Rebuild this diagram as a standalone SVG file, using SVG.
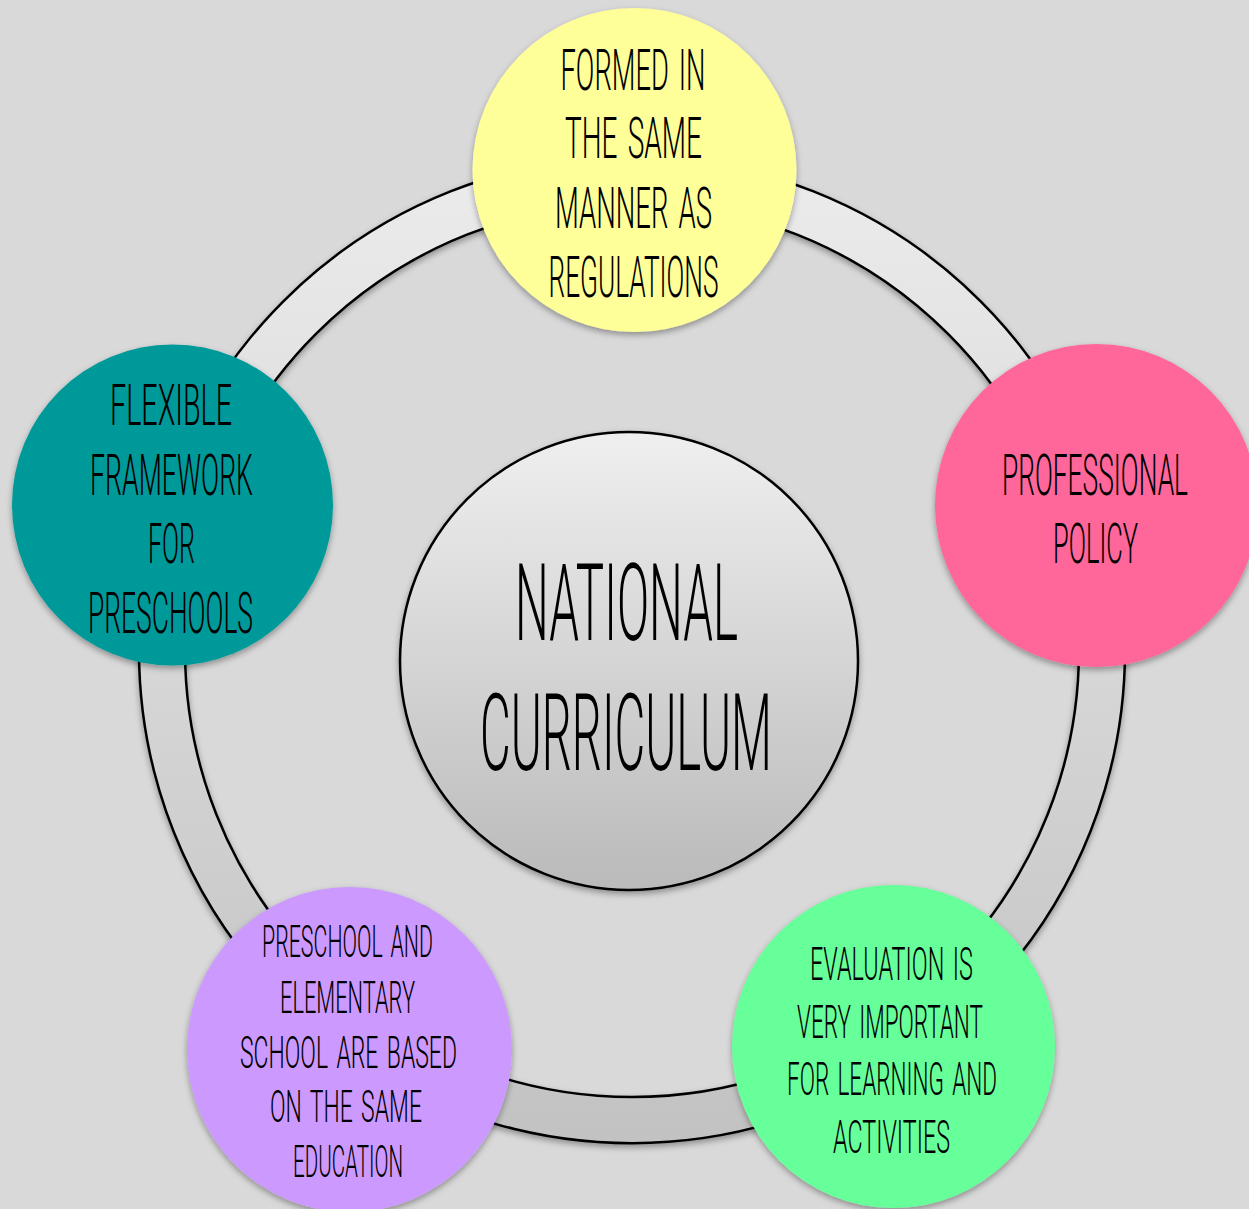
<svg xmlns="http://www.w3.org/2000/svg" width="1249" height="1209" viewBox="0 0 1249 1209">
  <defs>
    <linearGradient id="ringGrad" x1="0" y1="0" x2="0" y2="1">
      <stop offset="0" stop-color="#ececec"/>
      <stop offset="1" stop-color="#c2c2c2"/>
    </linearGradient>
    <linearGradient id="centerGrad" x1="0" y1="0" x2="0" y2="1">
      <stop offset="0" stop-color="#efefef"/>
      <stop offset="1" stop-color="#bababa"/>
    </linearGradient>
    <filter id="shadow" x="-20%" y="-20%" width="140%" height="140%">
      <feDropShadow dx="0" dy="3" stdDeviation="3" flood-color="#000" flood-opacity="0.35"/>
    </filter>
  </defs>
  <style>
    .lbl { font-family: Roboto, "Liberation Sans Narrow", "DejaVu Sans Condensed", sans-serif; font-weight: 300; fill: #000; text-anchor: middle; word-spacing: 0.12em; }
    .sat { filter: url(#shadow); }
    .edge { stroke: #000; stroke-width: 2.5; }
  </style>
  <rect width="1249" height="1209" fill="#d9d9d9"/>

  <g id="connectors">
    <path class="edge" filter="url(#shadow)" fill="url(#ringGrad)" fill-rule="evenodd"
      d="M139,650 A493,493 0 1,0 1125,650 A493,493 0 1,0 139,650 Z M185,650 A447,447 0 1,1 1079,650 A447,447 0 1,1 185,650 Z"/>
  </g>

  <g id="center">
    <circle class="edge" cx="629" cy="661" r="229" fill="url(#centerGrad)" filter="url(#shadow)"/>
    <text class="lbl" x="626.5" y="640" font-size="108" textLength="223" lengthAdjust="spacingAndGlyphs">NATIONAL</text>
    <text class="lbl" x="626" y="770" font-size="108" textLength="292" lengthAdjust="spacingAndGlyphs">CURRICULUM</text>
  </g>

  <g id="node-top">
    <circle class="sat" cx="634.5" cy="170" r="162" fill="#ffff99"/>
    <text class="lbl" x="633" y="90" font-size="57" textLength="145" lengthAdjust="spacingAndGlyphs">FORMED IN</text>
    <text class="lbl" x="633.5" y="158" font-size="57" textLength="137" lengthAdjust="spacingAndGlyphs">THE SAME</text>
    <text class="lbl" x="633.5" y="228" font-size="57" textLength="157" lengthAdjust="spacingAndGlyphs">MANNER AS</text>
    <text class="lbl" x="633.5" y="297" font-size="57" textLength="170" lengthAdjust="spacingAndGlyphs">REGULATIONS</text>
  </g>

  <g id="node-right">
    <circle class="sat" cx="1096.5" cy="505.5" r="161.5" fill="#ff6699"/>
    <text class="lbl" x="1095" y="495" font-size="58" textLength="186" lengthAdjust="spacingAndGlyphs">PROFESSIONAL</text>
    <text class="lbl" x="1095.5" y="563" font-size="55" textLength="85" lengthAdjust="spacingAndGlyphs">POLICY</text>
  </g>

  <g id="node-bottom-right">
    <circle class="sat" cx="893.5" cy="1046.5" r="161.5" fill="#66ff99"/>
    <text class="lbl" x="891.5" y="980" font-size="47" textLength="163" lengthAdjust="spacingAndGlyphs">EVALUATION IS</text>
    <text class="lbl" x="890" y="1038" font-size="47" textLength="186" lengthAdjust="spacingAndGlyphs">VERY IMPORTANT</text>
    <text class="lbl" x="892" y="1095" font-size="47" textLength="210" lengthAdjust="spacingAndGlyphs">FOR LEARNING AND</text>
    <text class="lbl" x="891.5" y="1153" font-size="47" textLength="117" lengthAdjust="spacingAndGlyphs">ACTIVITIES</text>
  </g>

  <g id="node-bottom-left">
    <circle class="sat" cx="349.5" cy="1049.5" r="162.5" fill="#cc99ff"/>
    <text class="lbl" x="347.5" y="957" font-size="44" textLength="171" lengthAdjust="spacingAndGlyphs">PRESCHOOL AND</text>
    <text class="lbl" x="347.5" y="1013" font-size="44" textLength="135" lengthAdjust="spacingAndGlyphs">ELEMENTARY</text>
    <text class="lbl" x="348.5" y="1068" font-size="44" textLength="217" lengthAdjust="spacingAndGlyphs">SCHOOL ARE BASED</text>
    <text class="lbl" x="346" y="1122" font-size="44" textLength="152" lengthAdjust="spacingAndGlyphs">ON THE SAME</text>
    <text class="lbl" x="348" y="1177" font-size="44" textLength="110" lengthAdjust="spacingAndGlyphs">EDUCATION</text>
  </g>

  <g id="node-left">
    <circle class="sat" cx="172.5" cy="505" r="160.5" fill="#009999"/>
    <text class="lbl" x="171" y="425" font-size="57" textLength="122" lengthAdjust="spacingAndGlyphs">FLEXIBLE</text>
    <text class="lbl" x="171.5" y="495" font-size="57" textLength="163" lengthAdjust="spacingAndGlyphs">FRAMEWORK</text>
    <text class="lbl" x="171.5" y="563" font-size="55" textLength="47" lengthAdjust="spacingAndGlyphs">FOR</text>
    <text class="lbl" x="170.5" y="633" font-size="57" textLength="165" lengthAdjust="spacingAndGlyphs">PRESCHOOLS</text>
  </g>
</svg>
